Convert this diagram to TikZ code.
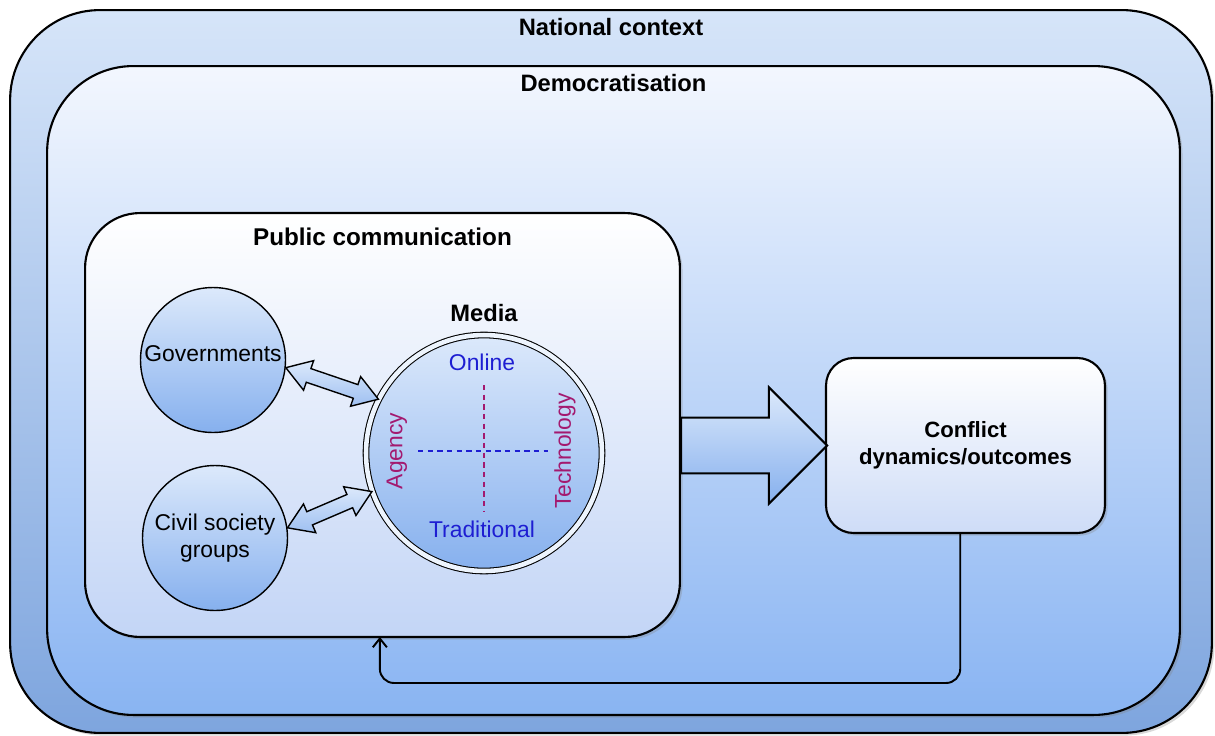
\documentclass[tikz,border=0pt]{standalone}
\usepackage{fontspec}
\setmainfont{Liberation Sans}
\usetikzlibrary{positioning,calc,shapes.arrows,shadows,arrows.meta}

\definecolor{natTop}{HTML}{D6E5F9}
\definecolor{natBot}{HTML}{7EA5DE}
\definecolor{demTop}{HTML}{F3F7FE}
\definecolor{demBot}{HTML}{89B4F2}
\definecolor{pubBot}{HTML}{C3D5F6}
\definecolor{circTop}{HTML}{DCE9FB}
\definecolor{circBot}{HTML}{86B0EE}
\definecolor{confBot}{HTML}{CEDCF7}
\definecolor{mediaBlue}{HTML}{1E1ED2}
\definecolor{mediaPurple}{HTML}{A3196F}

\tikzset{
    box/.style={draw=black, line width=1.2pt, rounded corners=#1,
        inner sep=0pt, outer sep=0pt,
        drop shadow={shadow xshift=1.5pt, shadow yshift=-1.5pt, opacity=0.3}},
    heading/.style={font=\fontsize{13.5}{16}\selectfont\bfseries},
    txt/.style={font=\fontsize{13}{15.5}\selectfont, align=center},
    actor/.style={circle, draw=black, line width=0.8pt, top color=circTop,
        bottom color=circBot, minimum size=2.9cm, inner sep=0pt, txt},
    dblarrow/.style={double arrow, draw=black, line width=0.8pt, inner xsep=0pt,
        inner ysep=3.7pt, minimum width=0pt, double arrow head extend=4.8pt,
        double arrow tip angle=66, top color=circTop, bottom color=circBot!80!white},
    bigarrow/.style={single arrow, draw=black, line width=1.2pt, inner xsep=0pt,
        inner ysep=15.3pt, minimum width=0pt, single arrow head extend=17.2pt,
        single arrow tip angle=90, top color=circTop, bottom color=circBot},
    feedback/.style={line width=1.1pt, rounded corners=8pt,
        -{Straight Barb[length=5pt,width=8pt]}}
}

\begin{document}
\begin{tikzpicture}[x=0.02cm, y=-0.02cm]
    \useasboundingbox (0,0) rectangle (1215,735);

    % nested contexts
    \node[box=1.8cm, top color=natTop, bottom color=natBot,
        minimum width=24.04cm, minimum height=14.46cm] (nat) at (611,371.5) {};
    \node[heading] (natT) at ([yshift=-9.6pt]nat.north) {National context};

    \node[box=1.72cm, top color=demTop, bottom color=demBot,
        minimum width=22.66cm, minimum height=12.98cm] (dem) at (613.5,390.5) {};
    \node[heading] (demT) at ([yshift=-9.6pt]dem.north) {Democratisation};

    \node[box=1.1cm, top color=white, middle color=white!55!pubBot, bottom color=pubBot,
        minimum width=11.9cm, minimum height=8.48cm] (pub) at (382.5,425) {};
    \node[heading, font=\fontsize{13.8}{16}\selectfont\bfseries] (pubT)
        at ([yshift=-13.6pt]pub.north) {Public communication};

    \node[box=0.55cm, top color=white, bottom color=confBot,
        minimum width=5.58cm, minimum height=3.5cm, align=center,
        font=\fontsize{12.6}{15.3}\selectfont\bfseries] (conf) at (965.5,445.5) {Conflict\\dynamics/outcomes};

    % actors
    \node[actor] (gov) at (213,360) {};
    \node[txt] (govT) at (213,354) {Governments};
    \node[actor] (civ) at (215,538) {Civil society\\groups};

    % media quadrants
    \node[circle, draw=black, line width=0.6pt, double=circTop!50!white,
        double distance=2.6pt, top color=circTop, bottom color=circBot,
        minimum size=4.72cm, inner sep=0pt] (media) at (484,453) {};
    \node[heading] (mediaT) at ([yshift=12.5pt]media.north) {Media};
    \draw[mediaPurple, line width=0.8pt, dash pattern=on 3pt off 2.5pt]
        ([shift={(0,-68)}]media.center) -- ([shift={(0,59)}]media.center);
    \draw[mediaBlue, line width=0.8pt, dash pattern=on 3pt off 2.5pt]
        ([shift={(-66,-2)}]media.center) -- ([shift={(64,-2)}]media.center);
    \node[txt, text=mediaBlue] (online) at (482,362) {Online};
    \node[txt, text=mediaBlue] (trad) at (482,529) {Traditional};
    \node[txt, text=mediaPurple, rotate=90] (agency) at (397,451) {Agency};
    \node[txt, text=mediaPurple, rotate=90] (tech) at (565,451) {Technology};

    % two-way links to the media
    \path let \p1=($(media.153)-(gov.-6)$), \n1={atan2(\y1,\x1)}, \n2={veclen(\x1,\y1)} in
        node[dblarrow, rotate=\n1, minimum height=\n2] (govLink) at ($(gov.-6)!0.5!(media.153)$) {};
    \path let \p1=($(media.199)-(civ.8)$), \n1={atan2(\y1,\x1)}, \n2={veclen(\x1,\y1)} in
        node[dblarrow, rotate=\n1, minimum height=\n2] (civLink) at ($(civ.8)!0.5!(media.199)$) {};

    % effect on conflict
    \path let \p1=($(conf.west)-(pub.east|-conf.west)$) in
        node[bigarrow, minimum height=\x1, anchor=tail] (effect) at (pub.east|-conf.west) {};

    % feedback loop
    \draw[feedback] ([xshift=-3pt]conf.south) -- ++(0,150) -| ([xshift=-1.5pt]pub.south);
\end{tikzpicture}
\end{document}
